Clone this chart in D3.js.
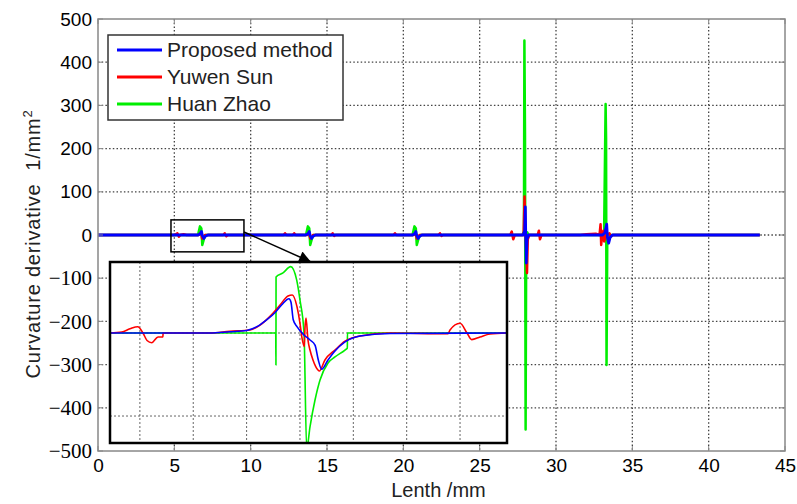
<!DOCTYPE html>
<html>
<head>
<meta charset="utf-8">
<script src="https://cdn.jsdelivr.net/npm/d3@7"></script>
<style>
  body { margin: 0; background: #fff; }
  svg { display: block; }
</style>
</head>
<body>
<div id="chart"></div>
<script>
// axis ticks
const xTicks = [0, 5, 10, 15, 20, 25, 30, 35, 40, 45];
const yTicks = [-500, -400, -300, -200, -100, 0, 100, 200, 300, 400, 500];

const seriesNames = ["Proposed method", "Yuwen Sun", "Huan Zhao"];
const seriesColors = ["#0000ff", "#ff0000", "#00ee00"];

// main plot curves, [length mm, curvature derivative]
const proposedMain = [
  [0, 0], [6.55, 0], [6.7, 3], [6.78, 8], [6.84, -2], [6.93, -8], [7.03, -3], [7.2, 0],
  [13.6, 0], [13.76, 3], [13.84, 8], [13.9, -2], [13.99, -8], [14.09, -3], [14.25, 0],
  [20.6, 0], [20.74, 3], [20.82, 8], [20.88, -2], [20.97, -8], [21.07, -3], [21.22, 0],
  [27.85, 0], [27.95, 10], [27.99, 65], [28.02, -5], [28.05, -65], [28.1, -10], [28.2, 0],
  [33.05, 0], [33.2, 5], [33.32, 25], [33.37, -5], [33.45, -19], [33.55, -5], [33.7, 0],
  [43.35, 0]
];
const sunMain = [
  [0, 0], [5.0, 0], [5.2, 4], [5.3, -4], [5.4, 0], [5.6, 2], [5.8, 0],
  [6.6, 0], [6.74, 6], [6.82, -8], [6.9, -6], [7.0, 0], [8.2, 0], [8.3, 4], [8.4, -3], [8.5, 0],
  [12.15, 0], [12.25, 4], [12.35, 0], [12.75, 0], [12.85, 4], [12.95, 0],
  [13.7, 0], [13.82, 6], [13.9, -8], [13.98, -6], [14.08, 0], [15.27, 0], [15.37, 4], [15.47, -2], [15.57, 0],
  [19.35, 0], [19.45, 4], [19.55, 0], [20.68, 0], [20.8, 6], [20.88, -8], [20.96, -6], [21.06, 0],
  [22.3, 0], [22.4, 4], [22.5, -2], [22.6, 0],
  [27.0, 0], [27.1, 8], [27.2, -10], [27.3, 0], [27.88, 0], [27.94, 89], [27.99, 20],
  [28.05, -30], [28.1, -88], [28.15, -10], [28.25, 0], [28.8, 0], [28.88, 10], [28.95, -10], [29.05, 0],
  [31.6, 0], [32.0, 2], [32.6, 3], [32.85, 0], [32.92, 25], [32.96, -23], [33.0, -5],
  [33.1, 10], [33.15, -15], [33.3, 0], [33.5, 4], [33.6, -4], [33.7, 0], [43.35, 0]
];
const zhaoMain = [
  [0, 0], [6.55, 0], [6.68, 20], [6.77, 15], [6.83, -23], [6.93, -10], [7.05, 0],
  [13.62, 0], [13.75, 20], [13.84, 15], [13.9, -23], [14.0, -10], [14.12, 0],
  [20.6, 0], [20.73, 20], [20.82, 15], [20.88, -23], [20.98, -10], [21.1, 0],
  [27.8, 0], [27.9, 8], [27.93, 450], [27.97, 230], [28.01, -450], [28.05, 0], [28.12, 6], [28.2, 0],
  [33.15, 0], [33.25, 303], [33.28, 225], [33.31, -301], [33.36, 0], [43.35, 0]
];

// zoomed inset curves
const insetXTicks = [5, 5.5, 6, 6.5, 7, 7.5, 8];
const insetYTicks = [-10, 0];
const proposedInset = [
  [4.72, 0], [5.66, 0], [5.84, 0.15], [6.0, 0.3], [6.11, 0.85], [6.19, 1.6], [6.27, 2.5],
  [6.33, 3.4], [6.397, 4.13], [6.416, 3.7], [6.437, 1.6], [6.472, 0.76], [6.538, -0.24],
  [6.594, -0.84], [6.641, -1.45], [6.672, -3.25], [6.703, -4.37], [6.763, -3.25],
  [6.828, -2.17], [6.922, -1.08], [7.062, -0.36], [7.344, -0.06], [8.44, 0]
];
const sunInset = [
  [4.72, 0], [4.83, 0.12], [4.907, 0.5], [4.98, 0.76], [5.029, 0], [5.067, -0.9],
  [5.111, -1.17], [5.17, -0.48], [5.216, -0.48], [5.217, 0], [5.66, 0], [5.84, 0.2],
  [6.032, 0.36], [6.126, 0.95], [6.219, 2.0], [6.313, 3.37], [6.388, 4.46], [6.428, 4.58],
  [6.472, 3.17], [6.5, 1.2], [6.519, -0.6], [6.541, -1.65], [6.547, 0.6], [6.557, 1.81],
  [6.575, -0.84], [6.594, -2.05], [6.622, -3.25], [6.669, -4.46], [6.681, -4.58],
  [6.734, -3.25], [6.828, -2.05], [6.922, -1.0], [7.062, -0.36], [7.344, 0], [7.887, -0.1],
  [7.906, 0.36], [8.0, 1.17], [8.065, 0], [8.109, -0.8], [8.187, -0.48], [8.28, -0.12], [8.44, 0]
];
const zhaoInset = [
  [4.72, 0], [6.273, 0], [6.275, -3.86], [6.276, 6.75], [6.341, 7.23], [6.413, 7.99],
  [6.469, 6.39], [6.5, 3.98], [6.538, 0], [6.563, -14], [6.594, -11.3], [6.641, -8.07],
  [6.688, -5.66], [6.763, -3.61], [6.828, -2.89], [6.922, -2.05], [6.944, -1.81],
  [6.945, 0], [8.44, 0]
];

// zoom box in main plot
const zoomBoxX = [4.78, 9.56];
const zoomBoxY = [-39, 35];

const width = 797, height = 504;
const margin = { left: 98, right: 12, top: 19, bottom: 53 };

const svg = d3.select("#chart").append("svg")
  .attr("width", width)
  .attr("height", height);

const x = d3.scaleLinear().domain([0, 45]).range([margin.left, width - margin.right]);
const y = d3.scaleLinear().domain([-500, 500]).range([height - margin.bottom, margin.top]);

const sans = "'Liberation Sans', Arial, sans-serif";
const serif = "'Liberation Serif', 'Times New Roman', serif";

// grid
svg.append("g").selectAll("line.gx")
  .data(xTicks.slice(1, -1)).enter().append("line")
  .attr("x1", d => x(d)).attr("x2", d => x(d))
  .attr("y1", y(500)).attr("y2", y(-500))
  .attr("stroke", "#444").attr("stroke-width", 1.3).attr("stroke-dasharray", "1.5,2.2");
svg.append("g").selectAll("line.gy")
  .data(yTicks.slice(1, -1)).enter().append("line")
  .attr("x1", x(0)).attr("x2", x(45))
  .attr("y1", d => y(d)).attr("y2", d => y(d))
  .attr("stroke", "#444").attr("stroke-width", 1.3).attr("stroke-dasharray", "1.5,2.2");

// curves
const line = d3.line().x(d => x(d[0])).y(d => y(d[1]));
[zhaoMain, sunMain, proposedMain].forEach((s, i) => {
  svg.append("path").datum(s)
    .attr("d", line)
    .attr("fill", "none")
    .attr("stroke", seriesColors[2 - i])
    .attr("stroke-width", i == 2 ? 2.8 : 2.5)
    .attr("stroke-linejoin", "round");
});

// frame and inward ticks
svg.append("rect")
  .attr("x", x(0)).attr("y", y(500))
  .attr("width", x(45) - x(0)).attr("height", y(-500) - y(500))
  .attr("fill", "none").attr("stroke", "#888").attr("stroke-width", 1.5);
const tickLen = 5;
xTicks.forEach(t => {
  svg.append("line").attr("x1", x(t)).attr("x2", x(t)).attr("y1", y(-500)).attr("y2", y(-500) - tickLen).attr("stroke", "#888");
  svg.append("line").attr("x1", x(t)).attr("x2", x(t)).attr("y1", y(500)).attr("y2", y(500) + tickLen).attr("stroke", "#888");
});
yTicks.forEach(t => {
  svg.append("line").attr("x1", x(0)).attr("x2", x(0) + tickLen).attr("y1", y(t)).attr("y2", y(t)).attr("stroke", "#888");
  svg.append("line").attr("x1", x(45)).attr("x2", x(45) - tickLen).attr("y1", y(t)).attr("y2", y(t)).attr("stroke", "#888");
});

// axes labels
const xAxis = svg.append("g")
  .attr("transform", `translate(0,${y(-500)})`)
  .call(d3.axisBottom(x).tickValues(xTicks).tickSize(0).tickPadding(8));
xAxis.select(".domain").remove();
xAxis.selectAll("text").attr("font-family", sans).attr("font-size", 19).attr("fill", "#000");

const yAxis = svg.append("g")
  .attr("transform", `translate(${x(0)},0)`)
  .call(d3.axisLeft(y).tickValues(yTicks).tickSize(0).tickPadding(6)
    .tickFormat(d => d < 0 ? "\u2212" + Math.abs(d) : d));
yAxis.select(".domain").remove();
yAxis.selectAll("text")
  .attr("font-family", d => d < 0 ? serif : sans)
  .attr("font-size", d => d < 0 ? 21 : 19)
  .attr("fill", "#000");

svg.append("text")
  .attr("x", (x(0) + x(45)) / 2 - 3).attr("y", 497)
  .attr("text-anchor", "middle")
  .attr("font-family", sans).attr("font-size", 20).attr("fill", "#222")
  .text("Lenth /mm");

const yTitle = svg.append("text")
  .attr("transform", `translate(40,244) rotate(-90)`)
  .attr("text-anchor", "middle")
  .attr("font-family", sans).attr("font-size", 20).attr("letter-spacing", 0.8).attr("fill", "#222");
yTitle.append("tspan").text("Curvature derivative\u00a0\u00a01/mm");
yTitle.append("tspan").attr("dy", -8).attr("font-size", 13).text("2");

// legend
const legend = svg.append("g");
legend.append("rect")
  .attr("x", 108).attr("y", 35).attr("width", 235).attr("height", 85)
  .attr("fill", "#fff").attr("stroke", "#333").attr("stroke-width", 1.5);
seriesNames.forEach((name, i) => {
  const ly = 50 + i * 27;
  legend.append("line").attr("x1", 117).attr("x2", 162).attr("y1", ly).attr("y2", ly)
    .attr("stroke", seriesColors[i]).attr("stroke-width", 3);
  legend.append("text").attr("x", 167).attr("y", ly + 7)
    .attr("font-family", sans).attr("font-size", 21).attr("fill", "#222")
    .text(name);
});

// zoom box
svg.append("rect")
  .attr("x", x(zoomBoxX[0])).attr("y", y(zoomBoxY[1]))
  .attr("width", x(zoomBoxX[1]) - x(zoomBoxX[0]))
  .attr("height", y(zoomBoxY[0]) - y(zoomBoxY[1]))
  .attr("fill", "none").attr("stroke", "#000").attr("stroke-width", 1.5);

// inset
const inset = { x0: 110, x1: 507, y0: 262, y1: 443 };
const ix = d3.scaleLinear().domain([4.72, 8.44]).range([inset.x0, inset.x1]);
const iy = d3.scaleLinear().domain([-13.25, 8.55]).range([inset.y1, inset.y0]);

svg.append("defs").append("clipPath").attr("id", "insetClip")
  .append("rect").attr("x", inset.x0).attr("y", inset.y0)
  .attr("width", inset.x1 - inset.x0).attr("height", inset.y1 - inset.y0);

const ig = svg.append("g");
ig.append("rect")
  .attr("x", inset.x0).attr("y", inset.y0)
  .attr("width", inset.x1 - inset.x0).attr("height", inset.y1 - inset.y0)
  .attr("fill", "#fff");
ig.selectAll("line.igx").data(insetXTicks).enter().append("line")
  .attr("x1", d => ix(d)).attr("x2", d => ix(d))
  .attr("y1", inset.y0).attr("y2", inset.y1)
  .attr("stroke", "#666").attr("stroke-width", 1).attr("stroke-dasharray", "2,2");
ig.selectAll("line.igy").data(insetYTicks).enter().append("line")
  .attr("x1", inset.x0).attr("x2", inset.x1)
  .attr("y1", d => iy(d)).attr("y2", d => iy(d))
  .attr("stroke", "#666").attr("stroke-width", 1).attr("stroke-dasharray", "2,2");

const iline = d3.line().x(d => ix(d[0])).y(d => iy(d[1])).curve(d3.curveMonotoneX);
const icurves = ig.append("g").attr("clip-path", "url(#insetClip)");
[zhaoInset, sunInset, proposedInset].forEach((s, i) => {
  icurves.append("path").datum(s)
    .attr("d", iline)
    .attr("fill", "none")
    .attr("stroke", seriesColors[2 - i])
    .attr("stroke-width", 1.6)
    .attr("stroke-linejoin", "round");
});
ig.append("rect")
  .attr("x", inset.x0).attr("y", inset.y0)
  .attr("width", inset.x1 - inset.x0).attr("height", inset.y1 - inset.y0)
  .attr("fill", "none").attr("stroke", "#000").attr("stroke-width", 2.5);

// arrow from zoom box to inset
svg.select("defs").append("marker")
  .attr("id", "arrow").attr("viewBox", "0 0 10 10")
  .attr("refX", 10).attr("refY", 5)
  .attr("markerWidth", 16).attr("markerHeight", 12)
  .attr("markerUnits", "userSpaceOnUse")
  .attr("orient", "auto")
  .append("path").attr("d", "M0,0 L10,5 L0,10 Z").attr("fill", "#000");
svg.append("line")
  .attr("x1", x(zoomBoxX[1])).attr("y1", y(7))
  .attr("x2", 311).attr("y2", inset.y0)
  .attr("stroke", "#000").attr("stroke-width", 1.5)
  .attr("marker-end", "url(#arrow)");
</script>
</body>
</html>
